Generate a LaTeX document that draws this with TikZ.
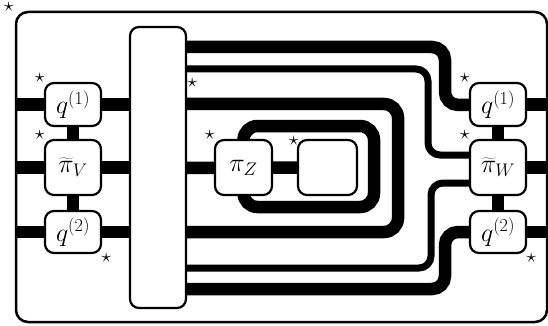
\RequirePackage{fix-cm}
\documentclass[tikz,border=0pt]{standalone}
\usetikzlibrary{backgrounds}
\begin{document}
\begin{tikzpicture}[x=1pt, y=-1pt,
    box/.style={draw, line width=2.2pt, fill=white, rounded corners=9pt, inner sep=0pt,
      minimum width=56pt, font=\fontsize{26}{30}\selectfont},
    qbox/.style={box, minimum height=43pt},
    pbox/.style={box, minimum height=55pt},
    wire/.style={line width=12.5pt},
    thinwire/.style={line width=7pt},
    stardot/.style={inner sep=0pt, font=\fontsize{20}{20}\selectfont}]
  \useasboundingbox (0,0) rectangle (548,326);
  \node[draw, line width=2.5pt, rounded corners=12pt, minimum width=531pt,
    minimum height=310pt] (frame) at (281.5,167) {};
  \foreach \s/\x in {V/73, W/498} {
    \node[qbox] (\s q1) at (\x,104.5) {$q^{(1)}$};
    \node[pbox] (\s pi) at (\x,167.5) {$\widetilde{\pi}_\s$};
    \node[qbox, minimum height=42pt] (\s q2) at (\x,232) {$q^{(2)}$};
  }
  \node[box, minimum height=281pt] (big) at (158,167.5) {};
  \node[pbox, minimum width=57pt] (piZ) at (243.5,167.5) {$\pi_Z$};
  \node[pbox, minimum width=59pt] (emp) at (327.5,167.5) {};

  \node[stardot] (st-frame) at ([shift={(-6,-4)}]frame.north west) {$\star$};
  \foreach \n in {Vq1, Vpi, piZ, Wq1, Wpi}
    \node[stardot, anchor=south east] (st-\n) at ([shift={(1,1)}]\n.north west) {$\star$};
  \foreach \n in {Vq2, Wq2}
    \node[stardot, anchor=north west] (st-\n) at ([shift={(-1,-1)}]\n.south east) {$\star$};
  \node[stardot, anchor=east] (st-emp) at ([shift={(2,2)}]emp.north west) {$\star$};
  \node[stardot, anchor=west] (st-big) at (big.east |- 0,83) {$\star$};

  \begin{scope}[on background layer]
    \foreach \y [count=\i] in {47,69,104,168,232,268,289}
      \coordinate (b\i) at (big.east |- 0,\y);
    \foreach \n in {q1, pi, q2} {
      \draw[wire] (frame.west |- V\n) -- (V\n) -- (V\n -| big.west);
      \draw[wire] (W\n) -- (frame.east |- W\n);
    }
    \draw[wire] (Vq1) -- (Vq2);
    \draw[wire] (Wq1) -- (Wq2);
    \draw[wire, rounded corners=13pt] (b1) -| (445,105) -- (Wq1);
    \draw[thinwire, rounded corners=12pt] (b2) -| (428,155) -- (Wpi.west |- 0,155);
    \draw[wire, rounded corners=14pt] (b3) -| (398,232) -- (b5);
    \draw[wire] (b4) -- (piZ) -- (emp);
    \draw[wire, rounded corners=14pt] (piZ |- 0,126) rectangle (374,207);
    \draw[thinwire, rounded corners=12pt] (b6) -| (431,183) -- (Wpi.west |- 0,183);
    \draw[wire, rounded corners=13pt] (b7) -| (445,232) -- (Wq2);
  \end{scope}
\end{tikzpicture}
\end{document}
